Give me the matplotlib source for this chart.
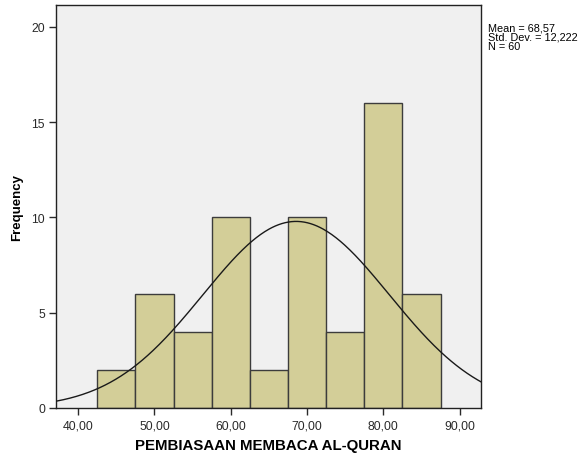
import numpy as np
import matplotlib
matplotlib.use("Agg")
import matplotlib.pyplot as plt

# Histogram of reading-habit scores with fitted normal curve

bin_edges = [42.5, 47.5, 52.5, 57.5, 62.5, 67.5, 72.5, 77.5, 82.5, 87.5]
counts = [2, 6, 4, 10, 2, 10, 4, 16, 6]
mean = 68.57
std_dev = 12.222
n_total = 60
x_ticks = [40, 50, 60, 70, 80, 90]
x_tick_labels = ["40,00", "50,00", "60,00", "70,00", "80,00", "90,00"]
y_ticks = [0, 5, 10, 15, 20]

plt.rcParams["font.family"] = ["Liberation Sans", "DejaVu Sans"]

fig = plt.figure(figsize=(5.84, 4.56), dpi=100)
ax = fig.add_axes([0.0959, 0.1031, 0.7277, 0.8837])
ax.set_facecolor("#f0f0f0")

lefts = bin_edges[:-1]
widths = np.diff(bin_edges)
ax.bar(lefts, counts, width=widths, align="edge",
       color="#d3ce98", edgecolor="#3c3c3c", linewidth=1.0, zorder=2)

# normal curve scaled to counts per bin
bw = widths[0]
xs = np.linspace(37.1, 92.8, 400)
ys = n_total * bw / (std_dev * np.sqrt(2 * np.pi)) * np.exp(-0.5 * ((xs - mean) / std_dev) ** 2)
ax.plot(xs, ys, color="#1a1a1a", linewidth=1.0, zorder=3)

ax.set_xlim(37.1, 92.8)
ax.set_ylim(0, 21.15)
ax.set_xticks(x_ticks)
ax.set_xticklabels(x_tick_labels)
ax.set_yticks(y_ticks)
ax.tick_params(direction="out", length=5, width=1, labelsize=8.8, colors="#2a2a2a", pad=3)
for side in ["top", "right", "bottom", "left"]:
    ax.spines[side].set_color("#222222")
    ax.spines[side].set_linewidth(1.0)

ax.set_xlabel("PEMBIASAAN MEMBACA AL-QURAN", fontsize=10.8, fontweight="bold", labelpad=5)
ax.set_ylabel("Frequency", fontsize=9.5, fontweight="bold", labelpad=6)

stats_text = "Mean = 68,57\nStd. Dev. = 12,222\nN = 60"
fig.text(0.836, 0.948, stats_text, fontsize=7.8, va="top", ha="left", linespacing=0.9)

fig.savefig("out.png", dpi=100)
